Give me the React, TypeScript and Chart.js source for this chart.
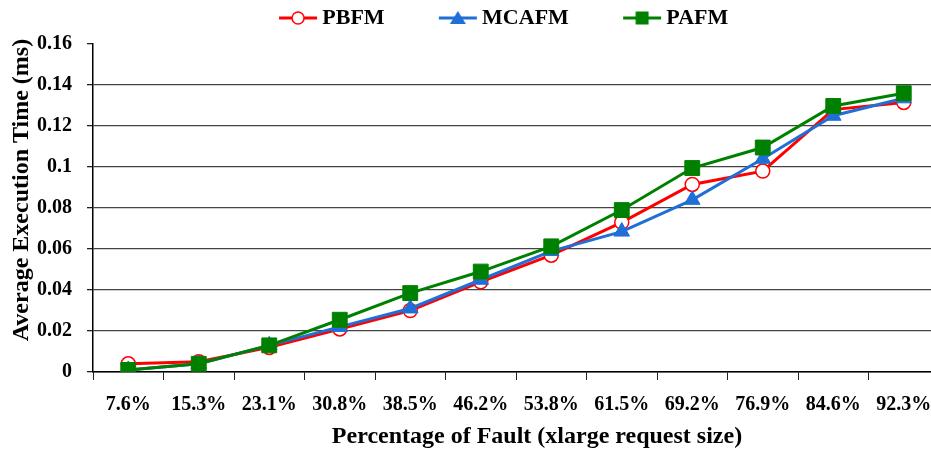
import React, { useEffect, useRef } from 'react';
import { Chart, registerables } from 'chart.js';

Chart.register(...registerables);

const categories = ['7.6%', '15.3%', '23.1%', '30.8%', '38.5%', '46.2%', '53.8%', '61.5%', '69.2%', '76.9%', '84.6%', '92.3%'];
const seriesNames = ['PBFM', 'MCAFM', 'PAFM'];
const pbfm = [0.004, 0.005, 0.012, 0.021, 0.030, 0.044, 0.057, 0.073, 0.0915, 0.098, 0.128, 0.1315];
const mcafm = [0.001, 0.004, 0.013, 0.022, 0.031, 0.045, 0.059, 0.0685, 0.084, 0.104, 0.125, 0.1335];
const pafm = [0.001, 0.004, 0.013, 0.0255, 0.0385, 0.049, 0.0613, 0.079, 0.0995, 0.1095, 0.1298, 0.136];
const yMin = 0;
const yMax = 0.16;
const yStep = 0.02;
const xTitle = 'Percentage of Fault (xlarge request size)';
const yTitle = 'Average Execution Time (ms)';

const FONT = '"Liberation Serif", "Times New Roman", serif';
const RED = '#ff0000';
const BLUE = '#1f6fd6';
const GREEN = '#008000';

function makeIcon(kind: string, color: string) {
  const c = document.createElement('canvas');
  c.width = 90;
  c.height = 20;
  const g = c.getContext('2d')!;
  g.strokeStyle = color;
  g.lineWidth = 3;
  g.beginPath();
  g.moveTo(51, 10);
  g.lineTo(89, 10);
  g.stroke();
  const cx = 70;
  const cy = 10;
  if (kind === 'circle') {
    g.beginPath();
    g.arc(cx, cy, 6, 0, Math.PI * 2);
    g.fillStyle = '#fff';
    g.fill();
    g.lineWidth = 1.5;
    g.stroke();
  } else if (kind === 'triangle') {
    g.beginPath();
    g.moveTo(cx, cy - 7);
    g.lineTo(cx + 8, cy + 6);
    g.lineTo(cx - 8, cy + 6);
    g.closePath();
    g.fillStyle = color;
    g.fill();
  } else {
    g.fillStyle = color;
    g.fillRect(cx - 6.5, cy - 6.5, 13, 13);
  }
  return c;
}

const legendShift = {
  id: 'legendShift',
  afterLayout(chart: any) {
    const l = chart.legend;
    if (l) {
      l.left += 12;
      l.right += 12;
      l.top -= 5;
      l.bottom -= 5;
    }
  },
};

export default function App() {
  const ref = useRef<HTMLCanvasElement>(null);
  useEffect(() => {
    const icons = [makeIcon('circle', RED), makeIcon('triangle', BLUE), makeIcon('rect', GREEN)];
    const chart = new Chart(ref.current!, {
      type: 'line',
      data: {
        labels: categories,
        datasets: [
          {
            label: seriesNames[0],
            data: pbfm,
            borderColor: RED,
            backgroundColor: RED,
            borderWidth: 3,
            tension: 0,
            pointStyle: 'circle',
            pointRadius: 7,
            pointBackgroundColor: '#ffffff',
            pointBorderColor: RED,
            pointBorderWidth: 1.5,
            order: 3,
          },
          {
            label: seriesNames[1],
            data: mcafm,
            borderColor: BLUE,
            backgroundColor: BLUE,
            borderWidth: 3,
            tension: 0,
            pointStyle: 'triangle',
            pointRadius: 9,
            pointBackgroundColor: BLUE,
            pointBorderColor: BLUE,
            pointBorderWidth: 1,
            order: 2,
          },
          {
            label: seriesNames[2],
            data: pafm,
            borderColor: GREEN,
            backgroundColor: GREEN,
            borderWidth: 3,
            tension: 0,
            pointStyle: 'rect',
            pointRadius: 10.5,
            pointBackgroundColor: GREEN,
            pointBorderColor: GREEN,
            pointBorderWidth: 1,
            order: 1,
          },
        ],
      },
      options: {
        responsive: false,
        animation: false,
        devicePixelRatio: 1,
        layout: { padding: { top: 2, right: 21, bottom: 1, left: 0 } },
        plugins: {
          tooltip: { enabled: false },
          legend: {
            display: true,
            position: 'top',
            labels: {
              usePointStyle: true,
              pointStyleWidth: 76.5,
              padding: 10,
              color: '#000',
              font: { family: FONT, size: 22, weight: 'bold' },
              generateLabels: (ch: any) =>
                ch.data.datasets.map((ds: any, i: number) => ({
                  text: ds.label,
                  pointStyle: icons[i],
                  datasetIndex: i,
                  hidden: false,
                  lineWidth: 0,
                  fillStyle: ds.borderColor,
                  strokeStyle: ds.borderColor,
                  fontColor: '#000',
                })),
            },
          },
        },
        scales: {
          x: {
            type: 'category',
            offset: true,
            grid: {
              display: true,
              offset: true,
              drawOnChartArea: false,
              drawTicks: true,
              tickLength: 8,
              tickColor: '#222',
              tickWidth: 1,
            },
            border: { display: true, color: '#000', width: 1.5 },
            ticks: {
              color: '#000',
              padding: 13,
              maxRotation: 0,
              autoSkip: false,
              font: { family: FONT, size: 20, weight: 'bold' },
            },
            title: {
              display: true,
              text: '\u00A0\u00A0\u00A0\u00A0\u00A0\u00A0\u00A0' + xTitle,
              color: '#000',
              font: { family: FONT, size: 24, weight: 'bold', lineHeight: 1 },
              padding: { top: -5, bottom: 0 },
            },
          },
          y: {
            type: 'linear',
            min: yMin,
            max: yMax,
            grid: {
              display: true,
              drawTicks: true,
              tickLength: 6,
              tickColor: '#222',
              lineWidth: 1.3,
              color: (ctx: any) => (ctx.tick && ctx.tick.value >= yMax - 1e-9 ? 'rgba(0,0,0,0)' : '#444'),
            },
            border: { display: true, color: '#000', width: 1.5 },
            ticks: {
              stepSize: yStep,
              color: '#000',
              padding: 15,
              font: { family: FONT, size: 20, weight: 'bold' },
              callback: (v: any) => String(Number(Number(v).toFixed(2))),
            },
            title: {
              display: true,
              text: '\u00A0\u00A0\u00A0\u00A0\u00A0\u00A0' + yTitle,
              color: '#000',
              font: { family: FONT, size: 24, weight: 'bold', lineHeight: 1 },
              padding: { top: 10, bottom: -12 },
            },
          },
        },
      },
      plugins: [legendShift],
    });
    return () => chart.destroy();
  }, []);
  return (
    <div
      style={{
        position: 'fixed',
        left: 0,
        top: 0,
        width: 931,
        height: 450,
        overflow: 'hidden',
        background: '#fff',
      }}
    >
      <canvas ref={ref} width={960} height={450} style={{ display: 'block', width: 960, height: 450 }} />
    </div>
  );
}
